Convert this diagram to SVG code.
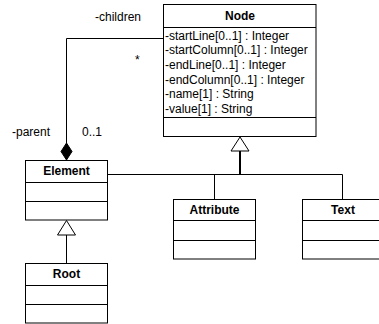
<svg xmlns="http://www.w3.org/2000/svg" width="379" height="324" viewBox="0 0 379 324">
<style>
.box{fill:#fff;stroke:#000;stroke-width:1}
.div{stroke:#000;stroke-width:1}
.t{font-family:"Liberation Sans",Arial,sans-serif;font-size:12px;fill:#000}
.b{font-family:"Liberation Sans",Arial,sans-serif;font-size:12px;font-weight:bold;fill:#000;text-anchor:middle}
.ln{fill:none;stroke:#000;stroke-width:1}
.tri{fill:#fff;stroke:#000;stroke-width:1}
</style>
<rect width="379" height="324" fill="#fff"/>
<g id="connectors">
<polyline class="ln" points="163,38.5 66.5,38.5 66.5,143"/>
<polygon points="66.5,143 72,151.5 66.5,160 61,151.5" fill="#000" stroke="#000"/>
<line class="ln" x1="240" y1="151" x2="240" y2="175" style="stroke-width:2"/>
<polyline class="ln" points="107,174.5 342.5,174.5 342.5,199"/>
<line class="ln" x1="214.5" y1="174.5" x2="214.5" y2="199"/>
<polygon class="tri" points="240,137 231,151 249,151"/>
<line class="ln" x1="66.5" y1="235" x2="66.5" y2="263"/>
<polygon class="tri" points="66.5,220.5 57.5,235 75.5,235"/>
</g>
<g id="labels">
<text class="t" x="95" y="21">-children</text>
<text class="t" x="135" y="64">*</text>
<text class="t" x="12" y="136">-parent</text>
<text class="t" x="82" y="136">0..1</text>
</g>
<g id="Node">
<rect class="box" x="163.5" y="4.5" width="152.5" height="132"/>
<line class="div" x1="163.5" y1="27.5" x2="316" y2="27.5"/>
<line class="div" x1="163.5" y1="117.5" x2="316" y2="117.5"/>
<text class="b" x="240" y="20">Node</text>
<text class="t" x="165" y="39.5">-startLine[0..1] : Integer</text>
<text class="t" x="165" y="54.2">-startColumn[0..1] : Integer</text>
<text class="t" x="165" y="68.9">-endLine[0..1] : Integer</text>
<text class="t" x="165" y="83.6">-endColumn[0..1] : Integer</text>
<text class="t" x="165" y="98.3">-name[1] : String</text>
<text class="t" x="165" y="113">-value[1] : String</text>
</g>
<g id="Element">
<rect class="box" x="25.5" y="160.5" width="82" height="59.5"/>
<line class="div" x1="25.5" y1="182.5" x2="107.5" y2="182.5"/>
<line class="div" x1="25.5" y1="201.5" x2="107.5" y2="201.5"/>
<text class="b" x="66.5" y="175">Element</text>
</g>
<g id="Root">
<rect class="box" x="25.5" y="263.5" width="82" height="59.5"/>
<line class="div" x1="25.5" y1="285.5" x2="107.5" y2="285.5"/>
<line class="div" x1="25.5" y1="304.5" x2="107.5" y2="304.5"/>
<text class="b" x="66.5" y="278">Root</text>
</g>
<g id="Attribute">
<rect class="box" x="173.5" y="199.5" width="82" height="59.5"/>
<line class="div" x1="173.5" y1="220.5" x2="255.5" y2="220.5"/>
<line class="div" x1="173.5" y1="240.5" x2="255.5" y2="240.5"/>
<text class="b" x="214.5" y="214">Attribute</text>
</g>
<g id="Text">
<rect class="box" x="302.5" y="199.5" width="82" height="59.5"/>
<line class="div" x1="302.5" y1="220.5" x2="384.5" y2="220.5"/>
<line class="div" x1="302.5" y1="240.5" x2="384.5" y2="240.5"/>
<text class="b" x="343" y="214">Text</text>
</g>
</svg>
